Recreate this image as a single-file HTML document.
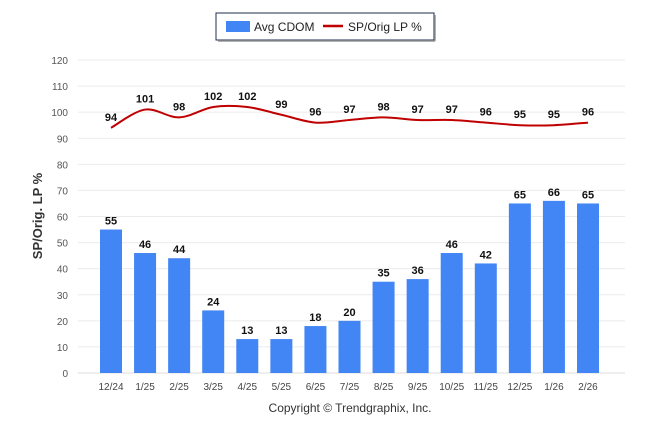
<!DOCTYPE html>
<html><head><meta charset="utf-8"><style>
body{margin:0;background:#fff;font-family:"Liberation Sans",sans-serif}
svg text{font-family:"Liberation Sans",sans-serif}
</style></head><body>
<svg id="chart" width="646" height="434" xmlns="http://www.w3.org/2000/svg">
<g>
<rect x="216" y="13" width="218" height="27" fill="#fff" stroke="#1f2d4f" stroke-width="1"/>
<line x1="218" y1="41" x2="435" y2="41" stroke="#999" stroke-width="1.5"/>
<line x1="435" y1="15" x2="435" y2="41" stroke="#999" stroke-width="1.5"/>
<rect x="226" y="21" width="24" height="11" fill="#4285f4"/>
<text x="254" y="31" font-size="12" fill="#222">Avg CDOM</text>
<line x1="323" y1="26" x2="343" y2="26" stroke="#c00000" stroke-width="2.5"/>
<text x="348" y="31" font-size="12" fill="#222">SP/Orig LP %</text>
</g>
<g id="grid"></g>
<g id="bars"></g>
<g id="line"></g>
<g id="labels"></g>
<text transform="translate(42,216) rotate(-90)" text-anchor="middle" font-size="13" font-weight="bold" fill="#333">SP/Orig. LP %</text>
<text x="350" y="412" text-anchor="middle" font-size="12" fill="#333">Copyright © Trendgraphix, Inc.</text>
</svg>
<script>
const categories=["12/24","1/25","2/25","3/25","4/25","5/25","6/25","7/25","8/25","9/25","10/25","11/25","12/25","1/26","2/26"];
const cdomValues=[55,46,44,24,13,13,18,20,35,36,46,42,65,66,65];
const spValues=[94,101,98,102,102,99,96,97,98,97,97,96,95,95,96];
const yTicks=[0,10,20,30,40,50,60,70,80,90,100,110,120];
const NS="http://www.w3.org/2000/svg";
const y0=373,y1=60,left=78,right=625;
function yS(v){return y0-(v/120)*(y0-y1);}
function xS(i){return 111+i*((588-111)/(categories.length-1));}
function mk(tag,attrs,parent,text){const e=document.createElementNS(NS,tag);for(const k in attrs)e.setAttribute(k,attrs[k]);if(text!==undefined)e.textContent=text;document.getElementById(parent).appendChild(e);return e;}
yTicks.forEach(t=>{
 const l=mk('line',{x1:left,x2:right,y1:yS(t),y2:yS(t),stroke:t===0?'#ddd':'#ebebeb','stroke-width':1},'grid');
 
 
 const tx=mk('text',{x:68,y:yS(t)+4,'text-anchor':'end','font-size':10,fill:'#555'},'grid',t);
 
 
});
categories.forEach((c,i)=>{
 const tx=mk('text',{x:xS(i),y:390,'text-anchor':'middle','font-size':10,fill:'#444'},'grid',c);
 
 
 const v=cdomValues[i];
 const b=mk('rect',{x:xS(i)-11,y:yS(v),width:22,height:y0-yS(v),fill:'#4285f4'},'bars');
 
 
 const bl=mk('text',{x:xS(i),y:yS(v)-5,'text-anchor':'middle','font-size':11,'font-weight':'bold',fill:'#111'},'labels',v);
 
 
 const s=spValues[i];
 const ll=mk('text',{x:xS(i),y:yS(s)-7,'text-anchor':'middle','font-size':11,'font-weight':'bold',fill:'#111'},'labels',s);
 
 
});
const pts=spValues.map((v,i)=>[xS(i),yS(v)]);
let d='M'+pts[0][0]+','+pts[0][1];
for(let i=0;i<pts.length-1;i++){
 const p0=pts[Math.max(0,i-1)],p1=pts[i],p2=pts[i+1],p3=pts[Math.min(pts.length-1,i+2)];
 const c1=[p1[0]+(p2[0]-p0[0])/6,p1[1]+(p2[1]-p0[1])/6];
 const c2=[p2[0]-(p3[0]-p1[0])/6,p2[1]-(p3[1]-p1[1])/6];
 d+=' C'+c1+' '+c2+' '+p2;
}
const path=mk('path',{d:d,fill:'none',stroke:'#c00000','stroke-width':2},'line');


</script>
</body></html>
